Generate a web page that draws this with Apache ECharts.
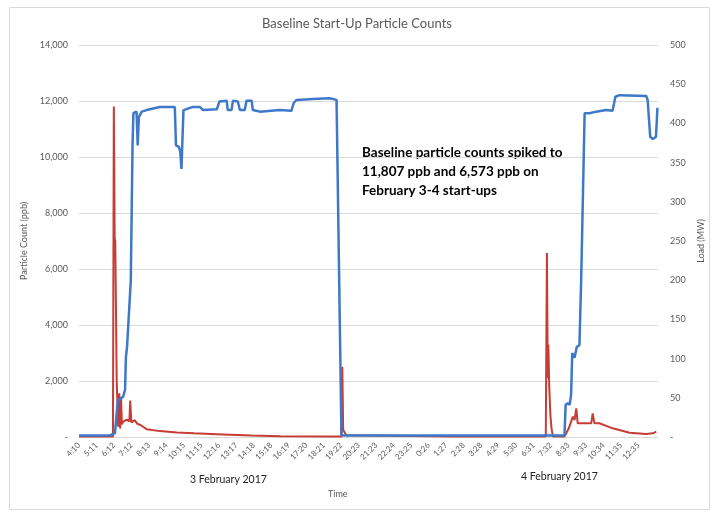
<!DOCTYPE html>
<html>
<head>
<meta charset="utf-8">
<script src="https://cdn.jsdelivr.net/npm/echarts@6/dist/echarts.min.js"></script>
<style>html,body{margin:0;padding:0;background:#fff}#chart{width:714px;height:513px}</style>
</head>
<body>
<div id="chart"></div>
<script>
// Tick labels (every ~60.75 minutes starting 4:10, 3 Feb 2017)
const timeLabels = ['4:10','5:11','6:12','7:12','8:13','9:14','10:15','11:15','12:16','13:17','14:18','15:18','16:19','17:20','18:21','19:22','20:23','21:23','22:24','23:25','0:26','1:27','2:28','3:28','4:29','5:30','6:31','7:32','8:33','9:33','10:34','11:35','12:35'];
const labelStepMinutes = 60.75;

// Load (MW), [minutes since 4:10 on 3 Feb, MW]
const loadData = [
  [0,2],[107,2],[125,5],[135,47],[153,51],[160,60],[163,102],[167,115],[172,113],[180,200],[183,286],[186,370],[189,413],
  [200,415],[204,372],[208,408],[218,415],[235,417],[281,421],[333,421],[337,372],[347,370],[352,364],[356,342],[359,342],[363,417],
  [396,421],[420,421],[431,417],[479,418],[488,428],[513,429],[517,417],[530,417],[535,429],[552,428],[559,417],[576,417],[582,429],
  [600,429],[604,417],[628,415],[698,417],[738,416],[746,426],[756,430],[812,431],[871,432],[895,430],[912,2],
  [1392,2],[1687,2],[1691,41],[1698,43],[1705,41],[1710,54],[1714,107],[1722,101],[1730,115],[1739,117],[1745,200],[1751,306],[1757,413],
  [1774,413],[1797,415],[1832,417],[1854,416],[1864,434],[1878,436],[1971,435],[1976,430],[1985,383],[1994,380],[2005,383],[2010,420]
];

// Particle count (ppb), [minutes since 4:10 on 3 Feb, ppb]
const particleData = [
  [0,20],[118,20],[121,11807],[124,7100],[126,7000],[131,2030],[136,370],[140,1560],[143,300],[146,1440],[149,450],[154,550],
  [166,620],[175,560],[178,1300],[182,520],[194,600],[202,480],[215,420],[235,280],[281,210],[340,160],[400,130],[500,90],[600,50],
  [700,30],[900,20],[912,20],[915,2510],[918,250],[923,180],[929,60],[935,15],[1300,15],[1622,15],[1626,6573],[1629,2100],[1631,3290],
  [1634,1800],[1638,800],[1642,300],[1647,15],[1687,15],[1693,130],[1702,310],[1716,725],[1722,607],[1728,1025],[1733,490],[1739,546],
  [1762,490],[1780,490],[1785,846],[1791,490],[1808,490],[1855,310],[1913,155],[1971,107],[1994,130],[2006,190]
];

const leftTicks = {min:0, max:14000, interval:2000};
const rightTicks = {min:0, max:500, interval:50};

const FONT = 'Lato';
const gray = '#595959';
const chart = echarts.init(document.getElementById('chart'));
chart.setOption({
  animation:false,
  backgroundColor:'#fff',
  title:{text:'Baseline Start-Up Particle Counts', left:'center', top:12,
    textStyle:{fontFamily:FONT, fontSize:13, fontWeight:'normal', color:gray}},
  grid:{left:79, right:56, top:45, bottom:76},
  xAxis:{type:'value', min:0, max:2012, interval:labelStepMinutes,
    axisLine:{lineStyle:{color:'#D9D9D9'}}, axisTick:{show:false}, splitLine:{show:false},
    axisLabel:{rotate:45, fontFamily:FONT, fontSize:8, color:gray, margin:7, showMaxLabel:false,
      formatter:function(v){const i=v/labelStepMinutes; const r=Math.round(i); if(Math.abs(i-r)>0.01) return ''; return timeLabels[r]||'';}}},
  yAxis:[
    {type:'value', min:leftTicks.min, max:leftTicks.max, interval:leftTicks.interval,
     name:'Particle Count (ppb)', nameLocation:'middle', nameGap:45, nameRotate:90,
     nameTextStyle:{fontFamily:FONT, fontSize:9, color:gray},
     axisLine:{show:false}, axisTick:{show:false},
     splitLine:{lineStyle:{color:'#D9D9D9'}},
     axisLabel:{fontFamily:FONT, fontSize:9, color:gray, margin:11,
       formatter:function(v){return v===0?'-':v.toLocaleString('en-US');}}},
    {type:'value', min:rightTicks.min, max:rightTicks.max, interval:rightTicks.interval,
     name:'Load (MW)', nameLocation:'middle', nameGap:37, nameRotate:90,
     nameTextStyle:{fontFamily:FONT, fontSize:9, color:gray},
     axisLine:{show:false}, axisTick:{show:false}, splitLine:{show:false},
     axisLabel:{fontFamily:FONT, fontSize:9, color:gray, margin:12,
       formatter:function(v){return v===0?'-':String(v);}}}
  ],
  series:[
    {name:'Particle Count', type:'line', yAxisIndex:0, data:particleData, showSymbol:false,
     lineStyle:{color:'#C83C36', width:2}, itemStyle:{color:'#C83C36'}},
    {name:'Load', type:'line', yAxisIndex:1, data:loadData, showSymbol:false,
     lineStyle:{color:'#3E78C8', width:2.5}, itemStyle:{color:'#3E78C8'}}
  ],
  graphic:[
    {type:'rect', shape:{x:9.5,y:7.5,width:700,height:502}, style:{fill:'none', stroke:'#D9D9D9', lineWidth:1}, silent:true},
    {type:'text', left:362, top:143, style:{text:'Baseline particle counts spiked to\n11,807 ppb and 6,573 ppb on\nFebruary 3-4 start-ups',
      font:'bold 13.5px Lato', fill:'#000', lineHeight:19}},
    {type:'text', left:190, top:474, style:{text:'3 February 2017', font:'10.5px Lato', fill:'#222'}},
    {type:'text', left:521, top:471, style:{text:'4 February 2017', font:'10.5px Lato', fill:'#222'}},
    {type:'text', left:328, top:490, style:{text:'Time', font:'9px Lato', fill:gray}}
  ]
});
</script>
</body>
</html>
